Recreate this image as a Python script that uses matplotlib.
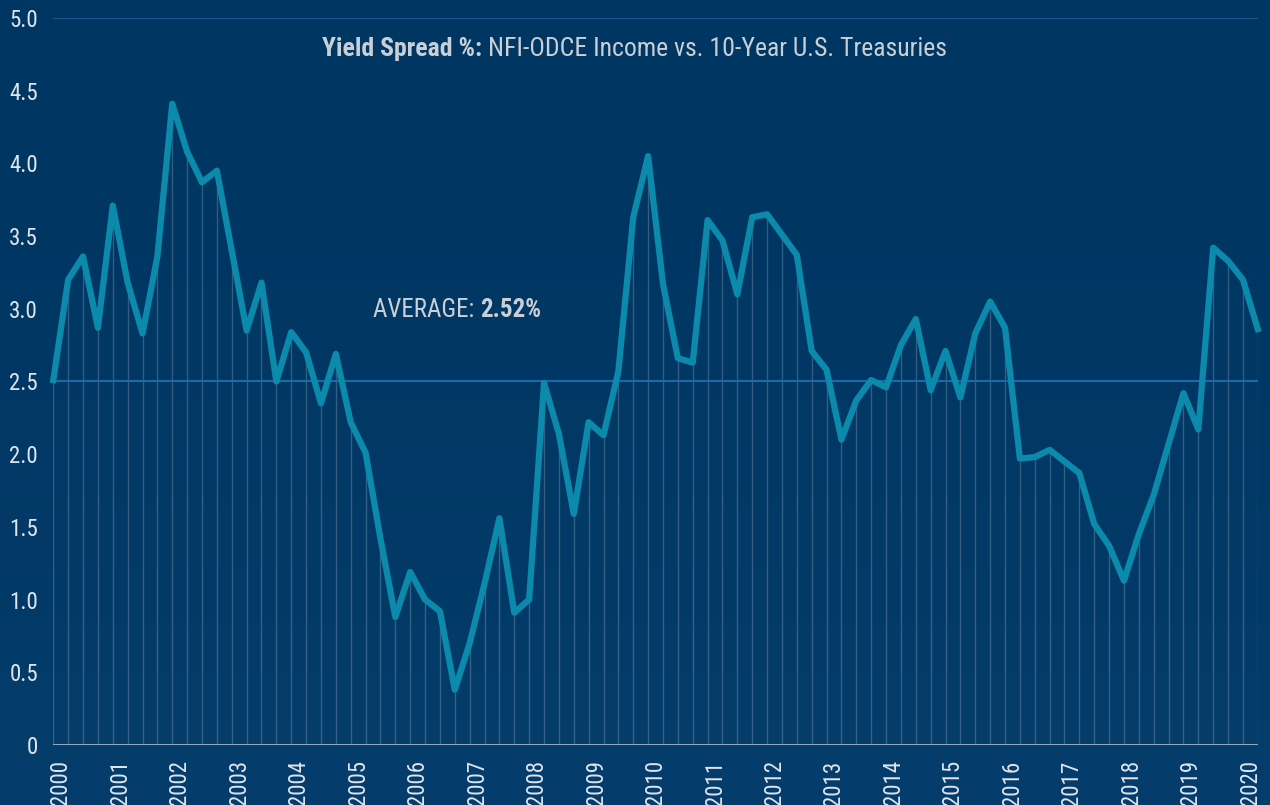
import matplotlib
matplotlib.use("Agg")
import matplotlib.pyplot as plt
import numpy as np
from matplotlib import font_manager

# quarterly yield spread, 2000Q1 - 2020Q2
spread = [2.51, 3.20, 3.36, 2.87, 3.71, 3.18, 2.83, 3.36, 4.41, 4.08, 3.87, 3.95,
          3.40, 2.85, 3.18, 2.50, 2.84, 2.70, 2.35, 2.69, 2.22, 2.01, 1.42, 0.88,
          1.19, 1.00, 0.92, 0.38, 0.70, 1.11, 1.56, 0.91, 1.00, 2.49, 2.14, 1.59,
          2.22, 2.13, 2.57, 3.63, 4.05, 3.17, 2.66, 2.63, 3.61, 3.47, 3.10, 3.63,
          3.65, 3.51, 3.37, 2.71, 2.58, 2.10, 2.37, 2.51, 2.46, 2.75, 2.93, 2.44,
          2.71, 2.39, 2.83, 3.05, 2.87, 1.97, 1.98, 2.03, 1.95, 1.87, 1.52, 1.37,
          1.13, 1.45, 1.72, 2.07, 2.42, 2.17, 3.42, 3.33, 3.20, 2.86]
years = list(range(2000, 2021))
quarters = [f"{y}Q{q}" for y in years for q in range(1, 5)][:len(spread)]
avg_line = 2.5
avg_label = "2.52%"
y_ticks = [0, 0.5, 1.0, 1.5, 2.0, 2.5, 3.0, 3.5, 4.0, 4.5, 5.0]
y_labels = ["0", "0.5", "1.0", "1.5", "2.0", "2.5", "3.0", "3.5", "4.0", "4.5", "5.0"]


def pick_font(names):
    for n in names:
        try:
            font_manager.findfont(n, fallback_to_default=False)
            return n
        except Exception:
            pass
    return "DejaVu Sans"


fam = pick_font(["Liberation Sans Narrow", "Roboto Condensed", "Roboto", "Liberation Sans"])
plt.rcParams['font.family'] = [fam, 'DejaVu Sans']

txt = '#dfe5ec'
title_col = '#c9cfd6'

fig = plt.figure(figsize=(12.7, 8.05), dpi=100)

# background gradient
bg = fig.add_axes([0, 0, 1, 1], zorder=-10)
grad = np.linspace(0, 1, 256).reshape(-1, 1)
top = np.array([0x00, 0x36, 0x62]) / 255
bot = np.array([0x05, 0x3e, 0x6c]) / 255
img = top + (bot - top) * grad[:, :, None] ** 2
bg.imshow(img, aspect='auto', extent=[0, 1, 0, 1], origin='upper')
bg.axis('off')

x = np.arange(len(spread))
ax = fig.add_axes([53.3 / 1270, 60 / 805, 1204.5 / 1270, 727 / 805])
ax.set_facecolor('none')
ax.set_xlim(0, len(spread) - 1)
ax.set_ylim(0, 5.0)

ax.vlines(x, 0, spread, color='white', alpha=0.2, lw=1, zorder=1)
ax.axhline(avg_line, color='#1b6aa5', lw=1.5, zorder=2)
ax.axhline(5.0, color='#1c5c95', lw=1.2, zorder=2)
ax.axhline(0, color='#a3b5c8', lw=2, zorder=3)
ax.plot(x, spread, color='#0b8aab', lw=4.5, zorder=4, clip_on=False)

for s in ax.spines.values():
    s.set_visible(False)
ax.set_yticks(y_ticks)
ax.set_yticklabels(y_labels, fontsize=16.5, color=txt)
year_pos = [quarters.index(f"{y}Q1") + 0.5 for y in years]
ax.set_xticks(year_pos)
ax.set_xticklabels([str(y) for y in years], rotation=90, fontsize=16.5,
                   color=txt, va='top', ha='center')
ax.tick_params(axis='y', length=0, pad=11)
ax.tick_params(axis='x', length=0, pad=11)

# average label
t1 = ax.text(21.5, 2.99, "AVERAGE: ", fontsize=18, color=title_col, va='center')
ax.annotate(avg_label, xycoords=t1, xy=(1, 0), va='bottom', fontsize=18,
            fontweight='bold', color=title_col)

# title, bold part + normal part, centred together
b = fig.text(0, 756 / 805, "Yield Spread %: ", fontsize=18.5, fontweight='bold',
             color=title_col, va='center')
r = ax.annotate("NFI-ODCE Income vs. 10-Year U.S. Treasuries", xycoords=b, xy=(1, 0),
                va='bottom', fontsize=18.5, color=title_col)
fig.canvas.draw()
rend = fig.canvas.get_renderer()
w = b.get_window_extent(rend).width + r.get_window_extent(rend).width
b.set_x((634.5 - w / 2) / 1270)

fig.savefig("out.png", dpi=100, facecolor=fig.get_facecolor())
